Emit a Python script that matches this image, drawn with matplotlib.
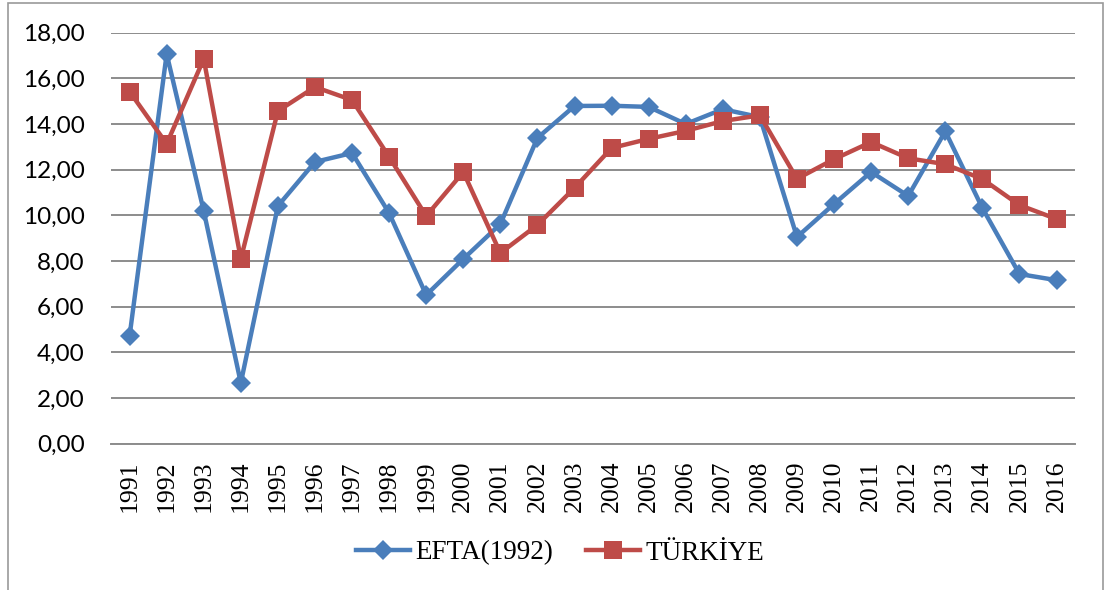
import matplotlib.pyplot as plt
from matplotlib.patches import Rectangle
from matplotlib.ticker import FuncFormatter

years = [str(y) for y in range(1991, 2017)]

efta = [4.72, 17.07, 10.19, 2.66, 10.41, 12.34, 12.73, 10.10, 6.51, 8.09,
        9.62, 13.39, 14.79, 14.80, 14.75, 14.00, 14.65, 14.30, 9.05, 10.50,
        11.90, 10.85, 13.68, 10.32, 7.43, 7.16]
turkiye = [15.42, 13.13, 16.85, 8.09, 14.57, 15.62, 15.05, 12.56, 9.97, 11.90,
           8.35, 9.58, 11.20, 12.95, 13.35, 13.70, 14.13, 14.38, 11.60, 12.46,
           13.21, 12.50, 12.24, 11.59, 10.45, 9.84]

blue = '#4a7ebb'
red = '#be4b48'

fig = plt.figure(figsize=(11.05, 5.9), dpi=100)
ax = fig.add_axes([0.1005, 0.248, 0.8724, 0.6966])

# outer chart frame
fig.patches.append(Rectangle((8 / 1105, -0.01), 1095 / 1105, 1 - 3 / 590 + 0.01,
                             transform=fig.transFigure, fill=False,
                             edgecolor='#9a9a9a', linewidth=1.2))

x = list(range(len(years)))
ax.plot(x, efta, color=blue, lw=3.2, marker='D', ms=10, mec=blue, mew=0,
        label='EFTA(1992)', zorder=3)
ax.plot(x, turkiye, color=red, lw=3.2, marker='s', ms=13, mec=red, mew=0,
        label='TÜRKİYE', zorder=3)

ax.set_xlim(-0.5, len(years) - 0.5)
ax.set_ylim(0, 18)
ax.set_yticks(range(0, 19, 2))
ax.yaxis.set_major_formatter(FuncFormatter(lambda v, p: f'{v:.2f}'.replace('.', ',')))
ax.set_xticks(x)
ax.set_xticklabels(years, rotation=90, family='Liberation Serif', fontsize=18.5)
for lab in ax.get_yticklabels():
    lab.set_family('Lato')
    lab.set_fontsize(17.5)

ax.grid(axis='y', color='#8c8c8c', lw=1.4)
ax.set_axisbelow(True)
for s in ['top', 'right', 'left']:
    ax.spines[s].set_visible(False)
ax.spines['bottom'].set_color('#8c8c8c')
ax.spines['bottom'].set_linewidth(1.4)
ax.tick_params(axis='both', length=0)
ax.tick_params(axis='x', pad=12)
ax.tick_params(axis='y', pad=19)

fig.legend(loc='center', bbox_to_anchor=(0.507, 1 - 553 / 590), ncol=2, frameon=False,
           prop={'family': 'Liberation Serif', 'size': 19.5},
           handlelength=2.0, handletextpad=0.2, columnspacing=1.2)

fig.savefig('out.png', dpi=100)
